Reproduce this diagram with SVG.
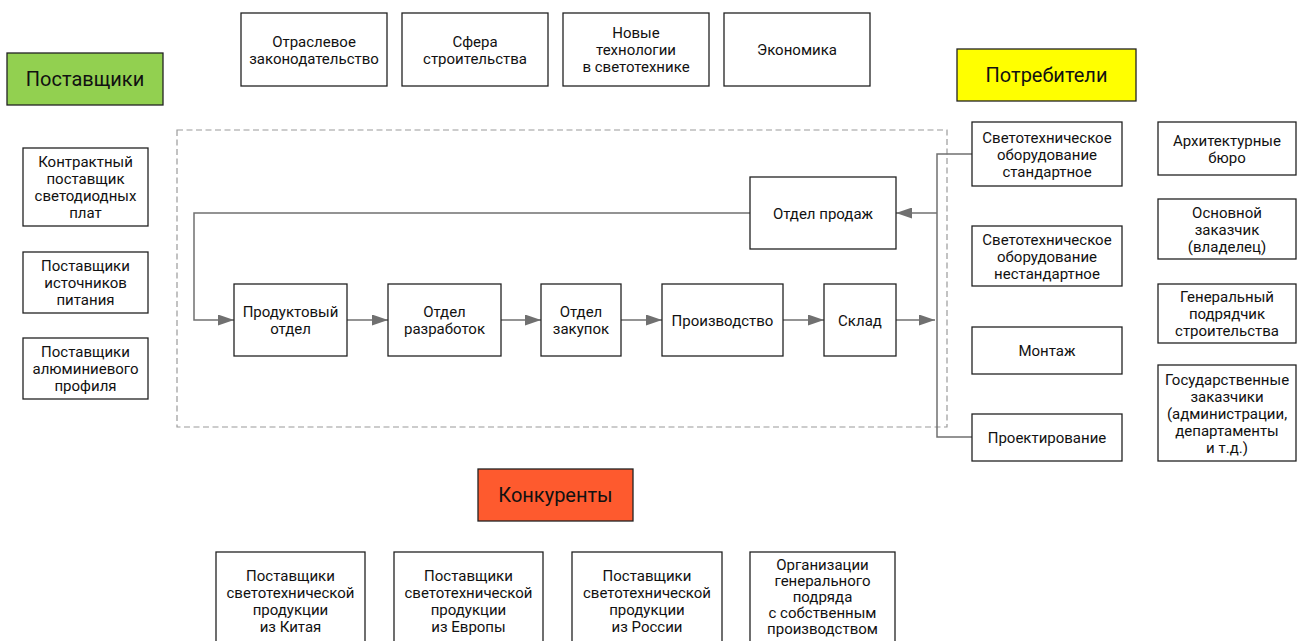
<svg xmlns="http://www.w3.org/2000/svg" width="1298" height="641" viewBox="0 0 1298 641">
<defs>
<style>
.box{fill:#fff;stroke:#222;stroke-width:1.3}
.lbl{stroke:#222;stroke-width:1.3}
text{font-family:Roboto,"Liberation Sans",sans-serif;font-size:15px;fill:#111;text-anchor:middle}
.big{font-size:20px}
.conn{fill:none;stroke:#707070;stroke-width:1.5}
.dash{fill:none;stroke:#9a9a9a;stroke-width:1.2;stroke-dasharray:6 3.5}
</style>
<marker id="arr" viewBox="0 0 16 11" refX="16" refY="5.5" markerWidth="16" markerHeight="11" markerUnits="userSpaceOnUse" orient="auto">
<path d="M0,0 L16,5.5 L0,11 z" fill="#707070"/>
</marker>
</defs>
<rect width="1298" height="641" fill="#fff"/>

<rect class="dash" x="177" y="130" width="770" height="297"/>

<g id="connectors">
<path class="conn" d="M750,213 H194 V320 H234" marker-end="url(#arr)"/>
<path class="conn" d="M347,320 H388" marker-end="url(#arr)"/>
<path class="conn" d="M501,320 H541" marker-end="url(#arr)"/>
<path class="conn" d="M621,320 H662" marker-end="url(#arr)"/>
<path class="conn" d="M783,320 H824" marker-end="url(#arr)"/>
<path class="conn" d="M896,320 H935" marker-end="url(#arr)"/>
<path class="conn" d="M972,154 H937 V437 H972"/>
<path class="conn" d="M937,213 H896" marker-end="url(#arr)"/>
</g>

<g id="n-postavshchiki"><rect class="lbl" x="7" y="53" width="156" height="52" fill="#92d050"/><text class="big" x="85" y="86">Поставщики</text></g>
<g id="n-potrebiteli"><rect class="lbl" x="957" y="49" width="179" height="52" fill="#ffff00"/><text class="big" x="1046.5" y="82">Потребители</text></g>
<g id="n-konkurenty"><rect class="lbl" x="478" y="469" width="155" height="52" fill="#fe5a2e"/><text class="big" x="555.5" y="502">Конкуренты</text></g>

<g id="n-otrasl"><rect class="box" x="241" y="13" width="146" height="73"/><text x="314" y="46.5">Отраслевое</text><text x="314" y="63.5">законодательство</text></g>
<g id="n-sfera"><rect class="box" x="402" y="13" width="146" height="73"/><text x="475" y="46.5">Сфера</text><text x="475" y="63.5">строительства</text></g>
<g id="n-novye"><rect class="box" x="563" y="13" width="146" height="73"/><text x="636" y="38">Новые</text><text x="636" y="55">технологии</text><text x="636" y="72">в светотехнике</text></g>
<g id="n-ekonomika"><rect class="box" x="724" y="13" width="146" height="73"/><text x="797" y="55">Экономика</text></g>

<g id="n-kontr"><rect class="box" x="23" y="148" width="125" height="78"/><text x="85.5" y="167">Контрактный</text><text x="85.5" y="184">поставщик</text><text x="85.5" y="201">светодиодных</text><text x="85.5" y="218">плат</text></g>
<g id="n-istoch"><rect class="box" x="23" y="252" width="125" height="61"/><text x="85.5" y="271">Поставщики</text><text x="85.5" y="288">источников</text><text x="85.5" y="305">питания</text></g>
<g id="n-alum"><rect class="box" x="23" y="338" width="125" height="61"/><text x="85.5" y="357">Поставщики</text><text x="85.5" y="374">алюминиевого</text><text x="85.5" y="391">профиля</text></g>

<g id="n-prod"><rect class="box" x="234" y="284" width="113" height="72"/><text x="290.5" y="317">Продуктовый</text><text x="290.5" y="334">отдел</text></g>
<g id="n-razr"><rect class="box" x="388" y="284" width="113" height="72"/><text x="444.5" y="317">Отдел</text><text x="444.5" y="334">разработок</text></g>
<g id="n-zak"><rect class="box" x="541" y="284" width="80" height="72"/><text x="581" y="317">Отдел</text><text x="581" y="334">закупок</text></g>
<g id="n-proizv"><rect class="box" x="662" y="284" width="121" height="72"/><text x="722.5" y="325.5">Производство</text></g>
<g id="n-sklad"><rect class="box" x="824" y="284" width="72" height="72"/><text x="860" y="325.5">Склад</text></g>
<g id="n-prodazh"><rect class="box" x="750" y="177" width="146" height="72"/><text x="823" y="218.5">Отдел продаж</text></g>

<g id="n-std"><rect class="box" x="972" y="122" width="150" height="64"/><text x="1047" y="142.5">Светотехническое</text><text x="1047" y="159.5">оборудование</text><text x="1047" y="176.5">стандартное</text></g>
<g id="n-nestd"><rect class="box" x="972" y="226" width="150" height="60"/><text x="1047" y="244.5">Светотехническое</text><text x="1047" y="261.5">оборудование</text><text x="1047" y="278.5">нестандартное</text></g>
<g id="n-montazh"><rect class="box" x="972" y="327" width="150" height="47"/><text x="1047" y="356">Монтаж</text></g>
<g id="n-proekt"><rect class="box" x="972" y="414" width="150" height="47"/><text x="1047" y="443">Проектирование</text></g>

<g id="n-arch"><rect class="box" x="1158" y="122" width="138" height="53"/><text x="1227" y="145.5">Архитектурные</text><text x="1227" y="162.5">бюро</text></g>
<g id="n-osn"><rect class="box" x="1158" y="199" width="138" height="60"/><text x="1227" y="217.5">Основной</text><text x="1227" y="234.5">заказчик</text><text x="1227" y="251.5">(владелец)</text></g>
<g id="n-gen"><rect class="box" x="1158" y="284" width="138" height="59"/><text x="1227" y="302">Генеральный</text><text x="1227" y="319">подрядчик</text><text x="1227" y="336">строительства</text></g>
<g id="n-gos"><rect class="box" x="1158" y="365" width="138" height="96"/><text x="1227" y="384.5">Государственные</text><text x="1227" y="401.5">заказчики</text><text x="1227" y="418.5">(администрации,</text><text x="1227" y="435.5">департаменты</text><text x="1227" y="452.5">и т.д.)</text></g>

<g id="n-china"><rect class="box" x="216" y="552" width="149" height="100"/><text x="290.5" y="581">Поставщики</text><text x="290.5" y="598">светотехнической</text><text x="290.5" y="615">продукции</text><text x="290.5" y="632">из Китая</text></g>
<g id="n-europe"><rect class="box" x="394" y="552" width="149" height="100"/><text x="468.5" y="581">Поставщики</text><text x="468.5" y="598">светотехнической</text><text x="468.5" y="615">продукции</text><text x="468.5" y="632">из Европы</text></g>
<g id="n-russia"><rect class="box" x="572" y="552" width="150" height="100"/><text x="647" y="581">Поставщики</text><text x="647" y="598">светотехнической</text><text x="647" y="615">продукции</text><text x="647" y="632">из России</text></g>
<g id="n-genpodr"><rect class="box" x="750" y="552" width="145" height="100"/><text x="822.5" y="570">Организации</text><text x="822.5" y="586">генерального</text><text x="822.5" y="602">подряда</text><text x="822.5" y="618">с собственным</text><text x="822.5" y="634">производством</text></g>
</svg>
